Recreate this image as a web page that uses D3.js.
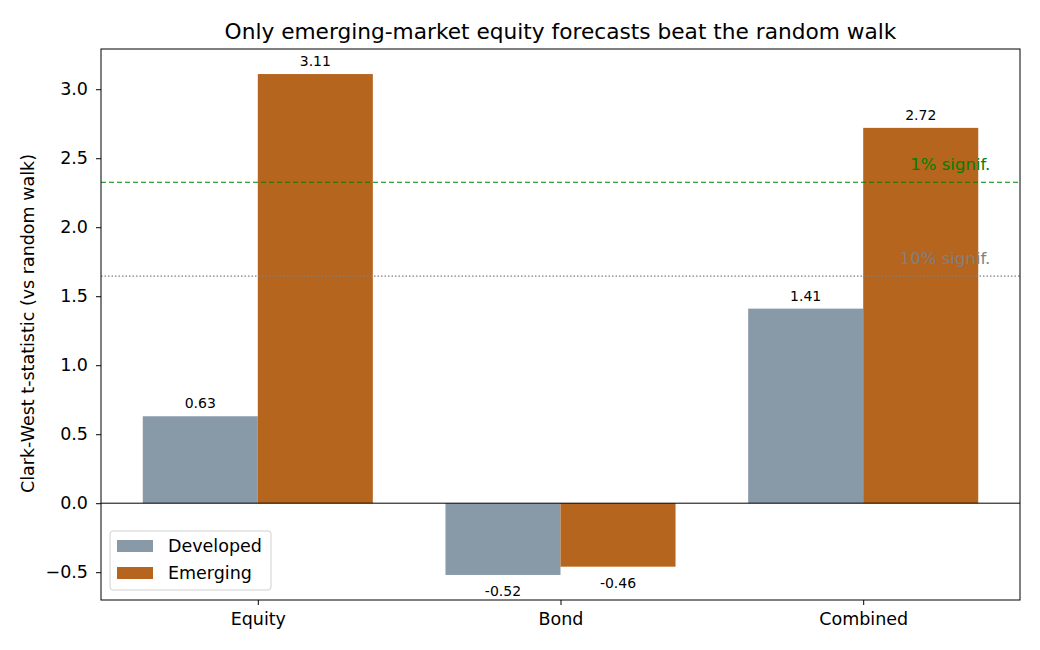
<!DOCTYPE html>
<html>
<head>
<meta charset="utf-8">
<script src="https://cdn.jsdelivr.net/npm/d3@7"></script>
<style>
  body { margin: 0; background: #fff; }
  text { font-family: "DejaVu Sans", sans-serif; }
</style>
</head>
<body>
<div id="chart"></div>
<script>
// data
const categories = ["Equity", "Bond", "Combined"];
const seriesNames = ["Developed", "Emerging"];
const developed = [0.63, -0.52, 1.41];
const emerging = [3.11, -0.46, 2.72];
const yTicks = [-0.5, 0.0, 0.5, 1.0, 1.5, 2.0, 2.5, 3.0];
const refLines = [
	{ label: "1% signif.", value: 2.326, color: "#008000", dash: "5,3", width: 1.2 },
	{ label: "10% signif.", value: 1.645, color: "gray", dash: "1.5,2", width: 1.2 },
];

const width = 1040, height = 650;
const margin = { top: 49, left: 101, right: 20, bottom: 50 };
const colors = { Developed: "#8899a8", Emerging: "#b5651d" };
const barW = 0.38;

const svg = d3.select("#chart").append("svg")
	.attr("width", width).attr("height", height);

const xScale = d3.scaleLinear()
	.domain([-barW - 0.138, 2 + barW + 0.138])
	.range([margin.left, width - margin.right]);
const yScale = d3.scaleLinear()
	.domain([-0.7015, 3.2915])
	.range([height - margin.bottom, margin.top]);

const bars = [];
categories.forEach((c, i) => {
	bars.push({ cat: i, series: "Developed", value: developed[i], x0: i - barW });
	bars.push({ cat: i, series: "Emerging", value: emerging[i], x0: i });
});

svg.append("g").selectAll("rect")
	.data(bars)
	.join("rect")
	.attr("x", d => xScale(d.x0))
	.attr("width", d => xScale(d.x0 + barW) - xScale(d.x0))
	.attr("y", d => yScale(Math.max(0, d.value)))
	.attr("height", d => Math.abs(yScale(d.value) - yScale(0)))
	.attr("fill", d => colors[d.series]);

// value labels
svg.append("g").selectAll("text")
	.data(bars)
	.join("text")
	.attr("x", d => xScale(d.x0 + barW / 2))
	.attr("y", d => d.value >= 0 ? yScale(d.value) - 8 : yScale(d.value) + 21)
	.attr("text-anchor", "middle")
	.style("font-size", "14px")
	.text(d => d.value.toFixed(2));

// zero line
svg.append("line")
	.attr("x1", xScale.range()[0]).attr("x2", xScale.range()[1])
	.attr("y1", yScale(0)).attr("y2", yScale(0))
	.attr("stroke", "black").attr("stroke-width", 1);

// reference lines
refLines.forEach(r => {
	svg.append("line")
		.attr("x1", xScale.range()[0]).attr("x2", xScale.range()[1])
		.attr("y1", yScale(r.value)).attr("y2", yScale(r.value))
		.attr("stroke", r.color)
		.attr("stroke-width", r.width)
		.attr("stroke-dasharray", r.dash);
	svg.append("text")
		.attr("x", xScale(2.42))
		.attr("y", yScale(r.value) - 12)
		.attr("text-anchor", "end")
		.attr("fill", r.color)
		.style("font-size", "16.5px")
		.text(r.label);
});

// axes
const xAxis = svg.append("g")
	.attr("transform", `translate(0,${height - margin.bottom})`)
	.call(d3.axisBottom(xScale).tickValues([0, 1, 2]).tickFormat(i => categories[i]).tickSizeOuter(0).tickSize(5).tickPadding(8));
const yAxis = svg.append("g")
	.attr("transform", `translate(${margin.left},0)`)
	.call(d3.axisLeft(yScale).tickValues(yTicks).tickFormat(d => d.toFixed(1).replace("-", "\u2212")).tickSizeOuter(0).tickSize(5).tickPadding(8));
[xAxis, yAxis].forEach(a => {
	a.selectAll("text").style("font-size", "17.5px").attr("fill", "black").style("font-family", "DejaVu Sans, sans-serif");
	a.select(".domain").remove();
});

// frame
svg.append("rect")
	.attr("x", margin.left).attr("y", margin.top)
	.attr("width", width - margin.left - margin.right)
	.attr("height", height - margin.top - margin.bottom)
	.attr("fill", "none").attr("stroke", "black").attr("stroke-width", 1);

// title & y label
svg.append("text")
	.attr("x", (margin.left + width - margin.right) / 2)
	.attr("y", 39)
	.attr("text-anchor", "middle")
	.style("font-size", "21.7px")
	.text("Only emerging-market equity forecasts beat the random walk");
svg.append("text")
	.attr("transform", `translate(34, ${(margin.top + height - margin.bottom) / 2 - 1}) rotate(-90)`)
	.attr("text-anchor", "middle")
	.style("font-size", "17.5px")
	.text("Clark-West t-statistic (vs random walk)");

// legend
const legend = svg.append("g").attr("transform", "translate(110,531)");
legend.append("rect")
	.attr("width", 161).attr("height", 59).attr("rx", 3)
	.attr("fill", "white").attr("fill-opacity", 0.8)
	.attr("stroke", "#d0d0d0");
seriesNames.forEach((s, i) => {
	legend.append("rect")
		.attr("x", 7).attr("y", 9 + i * 27)
		.attr("width", 36).attr("height", 12)
		.attr("fill", colors[s]);
	legend.append("text")
		.attr("x", 58).attr("y", 21 + i * 27)
		.style("font-size", "17.5px")
		.text(s);
});
</script>
</body>
</html>
